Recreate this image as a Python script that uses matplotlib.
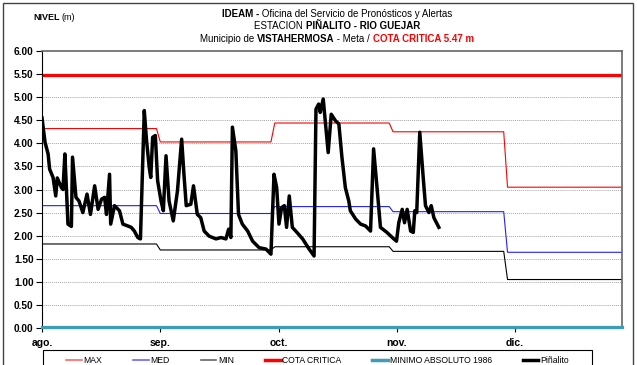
import numpy as np
import matplotlib
matplotlib.use('Agg')
import matplotlib.pyplot as plt
from matplotlib.lines import Line2D
from matplotlib.patches import Rectangle

plt.rcParams['font.family'] = ['Liberation Sans', 'DejaVu Sans']

# niveles de referencia mensuales (ago. - dic.)
dias_mes = [31, 30, 31, 30, 31]
nivel_max = [4.32, 4.03, 4.44, 4.25, 3.05]
nivel_med = [2.65, 2.48, 2.63, 2.52, 1.64]
nivel_min = [1.82, 1.69, 1.76, 1.66, 1.05]
cota_critica = 5.47
minimo_1986 = 0.03

meses = ['ago.', 'sep.', 'oct.', 'nov.', 'dic.']

# lecturas estacion Piñalito (dias desde 1 de agosto)
dias = [0, 0.8, 1.6, 2.0, 2.9, 3.6, 4.0, 5.1, 5.5, 6.0, 6.8, 7.7, 8.0, 8.9, 9.7,
        10.7, 11.8, 12.7, 13.8, 14.7, 15.6, 16.4, 16.9, 17.7, 18.0, 19.0, 20.3,
        21.2, 22.5, 23.4, 24.2, 25.1, 25.8, 26.8, 27.4, 28.1, 28.5, 29.0, 29.7,
        30.3, 31.2, 31.8, 32.5, 33.3, 34.4, 35.5, 36.6, 37.2, 37.8, 39.0, 39.7,
        40.7, 41.6, 42.5, 43.8, 45.6, 46.9, 48.2, 48.9, 49.5, 49.9, 50.8, 51.5,
        52.5, 53.9, 55.2, 56.9, 58.7, 60.0, 60.8, 61.5, 62.1, 62.8, 63.5, 64.1,
        64.8, 65.6, 66.5, 68.3, 70.0, 71.3, 71.8, 72.5, 72.9, 73.7, 75.0, 75.8,
        76.9, 77.8, 78.6, 79.5, 80.4, 80.8, 82.2, 83.5, 84.8, 86.1, 86.9, 87.8,
        88.7, 90.4, 91.8, 92.9, 93.5, 94.4, 95.0, 95.7, 96.6, 97.3, 97.7, 98.2,
        99.0, 99.9, 100.5, 101.4, 102.0, 102.7, 104.0]
nivel = [4.55, 4.02, 3.77, 3.44, 3.26, 2.86, 3.25, 3.04, 3.0, 3.77, 2.25, 2.2,
         3.7, 2.83, 2.75, 2.5, 2.9, 2.46, 3.08, 2.57, 2.79, 2.83, 2.46, 3.33,
         2.25, 2.65, 2.54, 2.25, 2.21, 2.18, 2.1, 1.96, 1.93, 4.71, 4.06, 3.48,
         3.26, 4.13, 4.17, 3.19, 2.75, 2.54, 3.73, 2.75, 2.32, 2.97, 4.09, 3.33,
         2.65, 2.68, 3.08, 2.46, 2.39, 2.1, 1.99, 1.93, 1.96, 1.93, 2.14, 1.96,
         4.35, 3.84, 2.46, 2.25, 2.1, 1.88, 1.74, 1.71, 1.6, 3.33, 3.04, 2.25,
         2.61, 2.65, 2.18, 2.86, 2.18, 2.1, 1.93, 1.71, 1.56, 4.74, 4.85, 4.67,
         4.96, 3.8, 4.63, 4.49, 4.42, 3.7, 3.04, 2.75, 2.54, 2.36, 2.25, 2.21,
         2.1, 3.88, 3.04, 2.18, 2.07, 1.96, 1.88, 2.28, 2.57, 2.28, 2.57, 2.1,
         2.07, 2.54, 2.5, 4.24, 3.26, 2.65, 2.5, 2.65, 2.39, 2.18]

W, H = 637, 365
fig = plt.figure(figsize=(W / 100, H / 100), dpi=100)
ax = fig.add_axes([42 / W, 1 - 328 / H, 580 / W, 277 / H])

x_dia = np.arange(sum(dias_mes))
ax.plot(x_dia, np.repeat(nivel_max, dias_mes), color='#FF0000', lw=0.8)
ax.plot(x_dia, np.repeat(nivel_med, dias_mes), color='#2020FF', lw=0.8)
ax.plot(x_dia, np.repeat(nivel_min, dias_mes), color='black', lw=0.8)
ax.axhline(cota_critica, color='#FF0000', lw=2.3)
ax.axhline(minimo_1986, color='#3D9DB3', lw=2.3, clip_on=False, zorder=5)
ax.plot(dias, nivel, color='black', lw=2.5, solid_joinstyle='round', zorder=6)

ax.set_xlim(0, 152)
ax.set_ylim(0, 6)
ax.set_yticks(np.arange(0, 6.01, 0.5))
ax.set_yticklabels([f'{v:.2f}' for v in np.arange(0, 6.01, 0.5)],
                   fontsize=7.3, fontweight='bold')
ax.set_xticks([0, 31, 62, 93, 124])
ax.set_xticklabels(meses, fontsize=7.5, fontweight='bold')
ax.tick_params(axis='y', length=4, width=0.8, pad=2)
ax.tick_params(axis='x', length=3, width=0.8, pad=4)
for v in np.arange(0.5, 6, 0.5):
    ax.axhline(v, color='#A8A8A8', lw=0.7, ls=(0, (1, 1)), zorder=0)
for s in ['top', 'right']:
    ax.spines[s].set_color('#666666')
    ax.spines[s].set_linewidth(1.2)
ax.spines['left'].set_linewidth(0.8)
ax.spines['bottom'].set_linewidth(0.8)

# marco general y caja de la leyenda
fig.patches.append(Rectangle((3 / W, -0.1), 630 / W, 1.1 - 3 / H, transform=fig.transFigure,
                             fill=False, ec='#444444', lw=1.0))
fig.patches.append(Rectangle((43 / W, -0.1), 549 / W, 0.1 + 1 - 350 / H,
                             transform=fig.transFigure, fill=False, ec='black', lw=0.8))

handles = [Line2D([], [], color='#FF6666', lw=1.2),
           Line2D([], [], color='#6666FF', lw=1.2),
           Line2D([], [], color='#666666', lw=1.2),
           Line2D([], [], color='#FF0000', lw=2.5),
           Line2D([], [], color='#3D9DB3', lw=2.5),
           Line2D([], [], color='black', lw=2.5)]
labels = ['MAX', 'MED', 'MIN', 'COTA CRITICA', 'MINIMO ABSOLUTO 1986', 'Piñalito']
fig.legend(handles, labels, loc='upper center', bbox_to_anchor=(317.5 / W, 1 - 350 / H),
           ncol=6, frameon=False, fontsize=6.2, columnspacing=3.6, handlelength=1.8,
           handletextpad=0.2, borderpad=0.2)

renderer = fig.canvas.get_renderer()


def linea_titulo(y, partes, xc, size=7):
    textos = [fig.text(0, 1 - y / H, s, fontsize=size, fontweight=w, color=c,
                       va='baseline', ha='left') for s, w, c in partes]
    anchos = [t.get_window_extent(renderer).width for t in textos]
    x = xc - sum(anchos) / 2
    for t, a in zip(textos, anchos):
        t.set_x(x / W)
        x += a


linea_titulo(17, [('IDEAM -', 'bold', 'black'),
                  (' Oficina del Servicio de Pronósticos y Alertas', 'normal', 'black')], 337)
linea_titulo(29, [('ESTACION ', 'normal', 'black'),
                  ('PIÑALITO - RIO GUEJAR', 'bold', 'black')], 337)
linea_titulo(42, [('Municipio de ', 'normal', 'black'),
                  ('VISTAHERMOSA', 'bold', 'black'),
                  (' - Meta / ', 'normal', 'black'),
                  ('COTA CRITICA 5.47 m', 'bold', '#FF0000')], 337)
fig.text(33 / W, 1 - 20 / H, 'NIVEL', fontsize=6.5, fontweight='bold', va='baseline')
fig.text(61 / W, 1 - 20 / H, '(m)', fontsize=6.5, va='baseline')

fig.savefig('out.png', dpi=100)
